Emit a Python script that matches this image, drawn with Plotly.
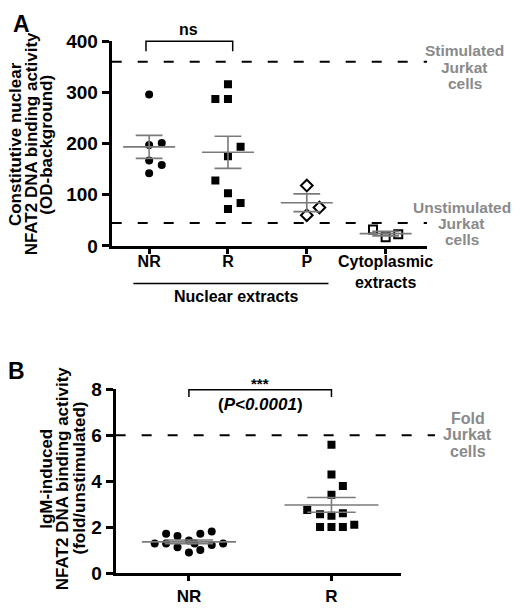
import numpy as np
import plotly.graph_objects as go

W, H = 520, 613
FONT = "Liberation Sans, Arial, sans-serif"
GREY = "#7a7a7a"
LABEL_GREY = "#8a8a8a"

# ---- panel A: constitutive nuclear NFAT2 binding (OD - background) ----
a_groups = ["NR", "R", "P", "Cytoplasmic<br>extracts"]
a_nr = [296, 197, 201, 167, 158, 142]
a_nr_jit = [0, 0, 0.16, 0, 0.16, 0]
a_r = [316, 287, 287, 194, 175, 128, 103, 84, 72]
a_r_jit = [0, -0.16, 0, 0.16, 0, -0.16, 0, 0.16, 0]
a_p = [118, 75, 60]
a_p_jit = [0, 0.16, 0]
a_cyto = [32, 17, 23]
a_cyto_jit = [-0.16, 0, 0.16]
a_stim = 360      # stimulated Jurkat cells
a_unstim = 45     # unstimulated Jurkat cells
a_yticks = [0, 100, 200, 300, 400]

# ---- panel B: IgM-induced NFAT2 binding (fold/unstimulated) ----
b_groups = ["NR", "R"]
b_nr = [1.30, 1.72, 1.30, 1.62, 1.13, 1.43, 0.91, 1.30, 1.72, 1.01, 1.82, 1.23, 1.30]
b_nr_jit = [-0.24, -0.16, -0.16, -0.08, -0.08, 0, 0, 0.04, 0.08, 0.08, 0.16, 0.16, 0.24]
b_r = [5.59, 4.29, 3.80, 3.41, 2.75, 2.57, 2.50, 2.61, 2.01, 2.01, 2.01, 2.11]
b_r_jit = [0, 0, 0.08, 0, -0.17, -0.08, 0, 0.08, -0.08, 0, 0.08, 0.16]
b_fold = 6        # fold Jurkat cells
b_yticks = [0, 2, 4, 6, 8]


def px(x, y):
    """pixel position in the 520x613 picture -> paper coords"""
    return x / W, 1 - y / H


def dots(pos, vals, jit, symbol, size, xa, ya, lw=0):
    return go.Scatter(
        x=[pos + j for j in jit], y=vals, mode="markers",
        marker=dict(symbol=symbol, size=size, color="black",
                    line=dict(color="black", width=lw)),
        xaxis=xa, yaxis=ya, showlegend=False, hoverinfo="skip",
    )


def mean_sem(pos, vals, xa, ya, half=0.33, cap=0.17):
    v = np.asarray(vals, dtype=float)
    m = v.mean()
    s = v.std(ddof=1) / np.sqrt(len(v))
    xs = [pos - half, pos + half, None,
          pos - cap, pos + cap, None,
          pos - cap, pos + cap, None,
          pos, pos]
    ys = [m, m, None, m + s, m + s, None, m - s, m - s, None, m - s, m + s]
    return go.Scatter(
        x=xs, y=ys, mode="lines", line=dict(color=GREY, width=1.6),
        xaxis=xa, yaxis=ya, showlegend=False, hoverinfo="skip",
    )


fig = go.Figure()

a_sets = [
    (a_nr, a_nr_jit, "circle", 8, 0),
    (a_r, a_r_jit, "square", 8, 0),
    (a_p, a_p_jit, "diamond-open", 9, 2),
    (a_cyto, a_cyto_jit, "square-open", 8, 2),
]
for i, (vals, jit, sym, sz, lw) in enumerate(a_sets):
    fig.add_trace(dots(i, vals, jit, sym, sz, "x", "y", lw))
for i, (vals, _, _, _, _) in enumerate(a_sets):
    fig.add_trace(mean_sem(i, vals, "x", "y"))

b_sets = [
    (b_nr, b_nr_jit, "circle", 8),
    (b_r, b_r_jit, "square", 8),
]
for i, (vals, jit, sym, sz) in enumerate(b_sets):
    fig.add_trace(dots(i, vals, jit, sym, sz, "x2", "y2"))
for i, (vals, _, _, _) in enumerate(b_sets):
    fig.add_trace(mean_sem(i, vals, "x2", "y2"))

axis_common = dict(
    showline=True, linecolor="black", linewidth=3, showgrid=False,
    zeroline=False, ticks="outside", tickcolor="black", tickwidth=2.5,
    fixedrange=True,
)

shapes = [
    # reference lines
    dict(type="line", xref="x domain", yref="y", x0=0, x1=1,
         y0=a_stim, y1=a_stim, line=dict(color="black", width=2, dash="10px,16px")),
    dict(type="line", xref="x domain", yref="y", x0=0, x1=1,
         y0=a_unstim, y1=a_unstim, line=dict(color="black", width=2, dash="10px,16px")),
    dict(type="line", xref="x2 domain", yref="y2", x0=0, x1=1.118,
         y0=b_fold, y1=b_fold, line=dict(color="black", width=2, dash="10px,16px")),
    # brackets
    dict(type="path", xref="x", yref="paper",
         path="M -0.04,%f L -0.04,%f L 1.06,%f L 1.06,%f" % (
             px(0, 42.7)[1], px(0, 32.3)[1], px(0, 32.3)[1], px(0, 42.7)[1]),
         line=dict(color="black", width=1.5)),
    dict(type="path", xref="x2", yref="paper",
         path="M 0,%f L 0,%f L 1,%f L 1,%f" % (
             px(0, 400.7)[1], px(0, 393.3)[1], px(0, 393.3)[1], px(0, 400.7)[1]),
         line=dict(color="black", width=1.5)),
    # nuclear extracts underline
    dict(type="line", xref="x", yref="paper", x0=-0.2, x1=2.275,
         y0=px(0, 283.3)[1], y1=px(0, 283.3)[1], line=dict(color="black", width=1.5)),
]


def ann(text, x, y, size, color="black", xref="paper", angle=0, weight="bold"):
    return dict(text=text, x=x, y=y, xref=xref, yref="paper",
                xanchor="center", yanchor="middle", showarrow=False,
                textangle=angle,
                font=dict(family=FONT, size=size, color=color, weight=weight))


annotations = [
    ann("A", *px(22, 15), 23),
    ann("B", *px(17, 374), 23),
    ann("ns", 0.5, px(0, 20)[1], 16, xref="x"),
    ann("***", 0.5, px(0, 387)[1], 15, xref="x2"),
    ann("(<i>P&lt;0.0001</i>)", 0.5, px(0, 408.3)[1], 17, xref="x2"),
    ann("Nuclear extracts", 1.11, px(0, 296.7)[1], 16, xref="x"),
]
for line, x in zip(["Constitutive nuclear", "NFAT2 DNA binding activity", "(OD-background)"],
                   [15, 31.5, 47]):
    annotations.append(ann(line, *px(x, 139), 17, angle=-90))
for line, x in zip(["IgM-induced", "NFAT2 DNA binding activity", "(fold/unstimulated)"],
                   [47, 63.5, 80]):
    annotations.append(ann(line, *px(x, 485), 17, angle=-90))
for line, y in zip(["Stimulated", "Jurkat", "cells"], [42.3, 59.1, 75.9]):
    annotations.append(ann(line, *px(470, y), 15.5, LABEL_GREY))
for line, y in zip(["Unstimulated", "Jurkat", "cells"], [205, 221.5, 238]):
    annotations.append(ann(line, *px(467, y), 15.5, LABEL_GREY))
for line, y in zip(["Fold", "Jurkat", "cells"], [423.3, 440, 456.7]):
    annotations.append(ann(line, *px(473, y), 16, LABEL_GREY))

tick_font = dict(family=FONT, color="black", weight="bold")

fig.update_layout(
    width=W, height=H,
    margin=dict(l=0, r=0, t=0, b=0),
    paper_bgcolor="white", plot_bgcolor="white",
    showlegend=False,
    xaxis=dict(axis_common, domain=[113 / W, 432 / W], range=[-0.475, 3.525],
               tickvals=list(range(len(a_groups))), ticktext=a_groups, ticklen=5,
               ticklabelstandoff=-6,
               tickfont=dict(tick_font, size=16), anchor="y"),
    yaxis=dict(axis_common, domain=[1 - 244.3 / H, 1 - 32.3 / H], range=[0, 400],
               tickvals=a_yticks, ticklen=7, tickfont=dict(tick_font, size=19),
               anchor="x"),
    xaxis2=dict(axis_common, domain=[117 / W, 406 / W], range=[-0.514, 1.49],
                tickvals=list(range(len(b_groups))), ticktext=b_groups, ticklen=5,
                tickfont=dict(tick_font, size=17), anchor="y2"),
    yaxis2=dict(axis_common, domain=[1 - 583.3 / H, 1 - 392.7 / H], range=[0, 8],
                tickvals=b_yticks, ticklen=7, tickfont=dict(tick_font, size=19),
                anchor="x2"),
    shapes=shapes,
    annotations=annotations,
)

# the page body has a default 8px margin; drop it so the figure fills the window
fig.write_html("out.html", config={"displayModeBar": False},
               post_script="document.body.style.margin = '0';")
